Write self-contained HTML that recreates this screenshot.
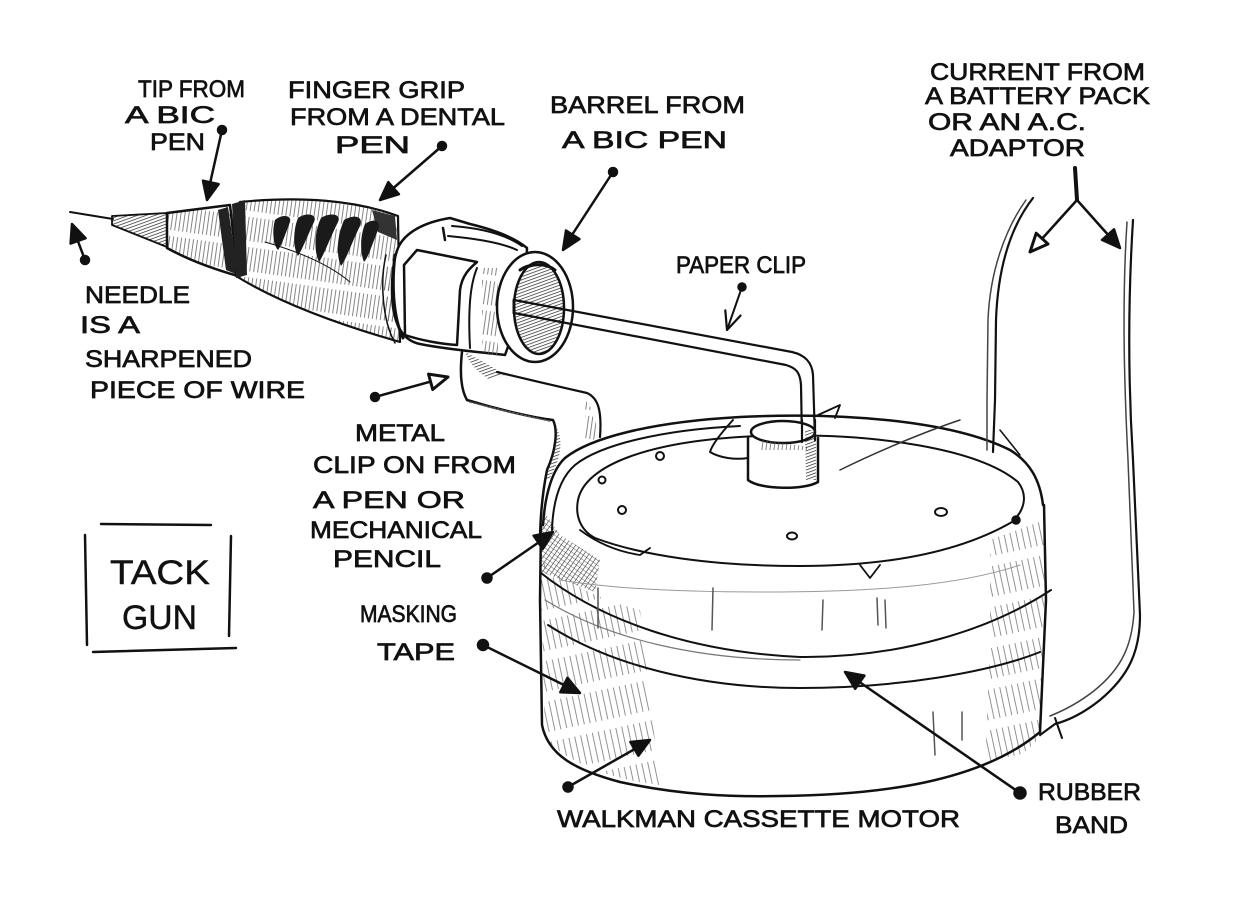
<!DOCTYPE html>
<html><head><meta charset="utf-8"><style>
html,body{margin:0;padding:0;background:#fff;}
svg{display:block;}
text{font-family:"Liberation Sans",sans-serif;fill:#111;stroke:#111;stroke-width:0.7;}
</style></head><body>
<svg width="1247" height="900" viewBox="0 0 1247 900" xmlns="http://www.w3.org/2000/svg">
<defs>
<pattern id="vh" width="4" height="30" patternUnits="userSpaceOnUse" patternTransform="rotate(8)"><line x1="1" y1="0" x2="1" y2="24" stroke="#666" stroke-width="0.8"/></pattern>
<pattern id="vh2" width="6" height="40" patternUnits="userSpaceOnUse" patternTransform="rotate(-12)"><line x1="1" y1="0" x2="1" y2="30" stroke="#777" stroke-width="0.8"/></pattern>
<pattern id="dk" width="3" height="3" patternUnits="userSpaceOnUse" patternTransform="rotate(70)"><line x1="0" y1="0" x2="0" y2="3" stroke="#222" stroke-width="1.4"/></pattern>
<pattern id="xh" width="4" height="4" patternUnits="userSpaceOnUse" patternTransform="rotate(35)"><line x1="0" y1="0" x2="0" y2="4" stroke="#222" stroke-width="1.1"/><line x1="0" y1="0" x2="4" y2="0" stroke="#444" stroke-width="0.8"/></pattern>
</defs>
<rect width="1247" height="900" fill="#fff"/>

<!-- ============ TEXT ============ -->
<g font-size="24">
<text x="138" y="97" textLength="107" lengthAdjust="spacingAndGlyphs">TIP FROM</text>
<text x="125" y="123" textLength="90" lengthAdjust="spacingAndGlyphs">A BIC</text>
<text x="150" y="150" textLength="55" lengthAdjust="spacingAndGlyphs">PEN</text>
<text x="288" y="98" textLength="177" lengthAdjust="spacingAndGlyphs">FINGER GRIP</text>
<text x="290" y="125" textLength="215" lengthAdjust="spacingAndGlyphs">FROM A DENTAL</text>
<text x="335" y="153" textLength="75" lengthAdjust="spacingAndGlyphs">PEN</text>
<text x="550" y="113" textLength="195" lengthAdjust="spacingAndGlyphs">BARREL FROM</text>
<text x="562" y="148" textLength="165" lengthAdjust="spacingAndGlyphs">A BIC PEN</text>
<text x="930" y="80" textLength="215" lengthAdjust="spacingAndGlyphs">CURRENT FROM</text>
<text x="925" y="104" textLength="225" lengthAdjust="spacingAndGlyphs">A BATTERY PACK</text>
<text x="928" y="130" textLength="158" lengthAdjust="spacingAndGlyphs">OR AN A.C.</text>
<text x="950" y="156" textLength="135" lengthAdjust="spacingAndGlyphs">ADAPTOR</text>
<text x="676" y="273" textLength="130" lengthAdjust="spacingAndGlyphs">PAPER CLIP</text>
<text x="85" y="303" textLength="105" lengthAdjust="spacingAndGlyphs">NEEDLE</text>
<text x="80" y="333" textLength="60" lengthAdjust="spacingAndGlyphs">IS A</text>
<text x="85" y="367" textLength="167" lengthAdjust="spacingAndGlyphs">SHARPENED</text>
<text x="90" y="398" textLength="215" lengthAdjust="spacingAndGlyphs">PIECE OF WIRE</text>
<text x="355" y="441" textLength="90" lengthAdjust="spacingAndGlyphs">METAL</text>
<text x="313" y="473" textLength="203" lengthAdjust="spacingAndGlyphs">CLIP ON FROM</text>
<text x="313" y="508" textLength="152" lengthAdjust="spacingAndGlyphs">A PEN OR</text>
<text x="310" y="538" textLength="172" lengthAdjust="spacingAndGlyphs">MECHANICAL</text>
<text x="333" y="567" textLength="108" lengthAdjust="spacingAndGlyphs">PENCIL</text>
<text x="360" y="622" textLength="97" lengthAdjust="spacingAndGlyphs">MASKING</text>
<text x="377" y="660" textLength="78" lengthAdjust="spacingAndGlyphs">TAPE</text>
<text x="557" y="827" textLength="403" lengthAdjust="spacingAndGlyphs">WALKMAN CASSETTE MOTOR</text>
<text x="1038" y="800" textLength="103" lengthAdjust="spacingAndGlyphs">RUBBER</text>
<text x="1055" y="833" textLength="73" lengthAdjust="spacingAndGlyphs">BAND</text>
</g>
<g font-size="34">
<text x="110" y="584" textLength="100" lengthAdjust="spacingAndGlyphs" style="stroke-width:0.4">TACK</text>
<text x="122" y="629" textLength="75" lengthAdjust="spacingAndGlyphs" style="stroke-width:0.4">GUN</text>
</g>
<!-- tack gun box -->
<g stroke="#111" stroke-width="2.5" fill="none" stroke-linecap="round">
<path d="M101,524 L211,525"/>
<path d="M85,535 L87,645"/>
<path d="M231,536 L229,636"/>
<path d="M93,652 L236,648"/>
</g>

<!-- ============ PEN ============ -->
<g stroke="#111" fill="none" stroke-linecap="round" stroke-linejoin="round">
<path d="M70,212 L113,219" stroke-width="2"/>
<path d="M112,216 L167,213 L167,247 L112,225 Z" fill="url(#dk)" stroke-width="1.8"/>
<path d="M167,213 L230,205 L238,276 C210,268 185,258 167,248 Z" fill="url(#vh)" stroke-width="2.5"/>
<path d="M218,210 L228,207 L238,275 L226,270 Z" fill="#222" stroke="none"/>
<path d="M240,202 C300,196 355,200 398,216 L400,342 C330,322 275,300 236,276 Z" fill="url(#vh)" stroke-width="2.2"/>
<path d="M232,204 L245,200 L247,275 L236,278 Z" fill="#222" stroke="none"/>
<path d="M372,210 L395,216 L397,240 L378,232 Z" fill="#333" stroke="none"/>
<g fill="#1a1a1a" stroke="none">
<path d="M275,220 C282,214 292,215 290,222 C286,232 282,245 278,250 C273,245 272,230 275,220 Z"/>
<path d="M298,218 C306,212 318,214 314,222 C308,235 302,250 298,256 C293,248 293,230 298,218 Z"/>
<path d="M321,218 C330,212 342,214 338,222 C330,238 324,255 319,262 C314,252 314,232 321,218 Z"/>
<path d="M344,220 C354,214 364,216 360,226 C352,242 346,260 341,266 C336,256 337,236 344,220 Z"/>
<path d="M365,224 C373,218 382,220 378,230 C372,245 368,258 364,262 C360,252 360,236 365,224 Z"/>
</g>
<path d="M265,242 C300,252 330,265 350,282" stroke-width="1"/>
</g>

<!-- collar / clip ring -->
<g stroke="#111" fill="none" stroke-linecap="round" stroke-linejoin="round">
<path d="M398,248 C405,232 425,222 450,218 L470,224 C495,230 515,238 527,248 L525,300 L505,355 C480,352 450,350 420,344 C400,340 392,320 392,290 C392,270 394,258 398,248 Z" fill="#fff" stroke-width="2.5"/>
<path d="M395,255 C392,280 392,315 403,338" stroke-width="3"/>
<path d="M386,255 C380,280 382,320 395,343" fill="url(#vh)" stroke-width="1.5"/>
<path d="M417,250 L477,262 C470,268 462,275 460,290 L457,345 C440,344 420,340 405,335 L404,265 Z" fill="#fff" stroke-width="2.5"/>
<path d="M477,268 C470,285 468,310 470,348" stroke-width="2"/>
<path d="M443,228 L445,240" stroke-width="2.5"/>
<path d="M448,236 C470,238 500,242 517,250" stroke-width="2"/>
<path d="M452,226 C480,228 505,234 522,246" stroke-width="2"/>
<path d="M482,268 L482,352 L498,356 L498,268 Z" fill="url(#vh)" stroke="none"/>
<ellipse cx="535" cy="307" rx="38" ry="55" fill="#fff" stroke-width="2.5"/>
<ellipse cx="539" cy="308" rx="25" ry="46" fill="url(#dk)" stroke-width="2.5"/>
<path d="M520,270 C528,264 545,262 555,270" stroke-width="3"/>
</g>

<!-- paper clip wire -->
<g stroke="#111" fill="none" stroke-linecap="round" stroke-linejoin="round" stroke-width="2.2">
<path d="M514,300 L792,352 C805,355 812,362 813,375 L815,440"/>
<path d="M514,313 L786,365 C796,368 800,372 801,385 L802,440"/>
<path d="M514,300 L514,313" stroke-width="3"/>
</g>

<!-- metal clip -->
<g stroke="#111" fill="none" stroke-linecap="round" stroke-linejoin="round">
<path d="M458,352 L498,360 L505,372 C520,380 550,385 587,393 C598,398 602,410 600,437 L560,470 L548,540 L540,545 L545,470 C550,450 556,435 553,425 C540,418 500,410 468,400 C460,390 458,370 458,352 Z" fill="#fff" stroke="none"/>
<path d="M462,352 C460,370 460,388 467,400 C500,410 535,418 553,420 C558,430 556,450 547,470 C542,495 540,520 540,545" stroke-width="2.5"/>
<path d="M470,402 C505,411 535,418 550,421" stroke="#555" stroke-width="1.5" stroke-dasharray="2 2"/>
<path d="M497,372 C530,380 565,388 587,393 C598,398 602,410 600,437" stroke-width="2.2"/>
<path d="M465,352 C480,360 495,368 505,375 L490,380 C478,372 470,365 465,352 Z" fill="url(#dk)" stroke="none"/>
<path d="M555,425 C565,440 560,460 550,478 L545,480 C552,460 555,440 555,425 Z" fill="url(#dk)" stroke="none"/>
<path d="M585,400 C595,410 598,425 596,440 L585,438 Z" fill="url(#vh)" stroke="none"/>
</g>

<!-- ============ MOTOR ============ -->
<g stroke="#111" fill="none" stroke-linecap="round" stroke-linejoin="round">
<path d="M540,560 L540,730 C560,770 640,795 760,795 C880,795 1000,780 1038,730 L1045,560 Z" fill="#fff" stroke="none"/>
<path d="M540,540 L545,740 C580,770 620,780 660,785 L640,610 C600,600 570,585 540,560 Z" fill="url(#vh2)" stroke="none"/>
<path d="M990,540 L1045,520 L1042,735 C1020,760 1000,768 985,770 L990,640 Z" fill="url(#vh2)" stroke="none"/>
<path d="M543,510 L560,535 L600,560 L595,592 L541,572 Z" fill="url(#xh)" stroke="none"/>
<path d="M543,525 C545,495 552,470 565,458 C590,438 650,422 740,417 C840,412 950,420 1010,450 C1030,462 1040,480 1043,505" stroke-width="2.5"/>
<path d="M552,530 C553,500 560,478 575,465 C600,445 660,430 740,426" stroke-width="2"/>
<path d="M578,500 C585,465 650,440 760,436 C880,432 980,450 1018,482 C1028,495 1025,510 1012,522 C960,552 890,566 800,566 C710,566 640,555 595,538 C580,530 575,515 578,500 Z" stroke-width="2"/>
<path d="M580,530 C600,545 620,552 640,555 L650,548" stroke-width="1.8"/>
<path d="M860,565 L870,578 L880,565" stroke-width="1.8"/>
<path d="M541,525 L540,600 L542,725 C548,755 575,770 620,782 C680,795 730,797 780,796 C880,795 980,782 1040,732 L1046,600 L1044,505" stroke-width="2.5"/>
<path d="M541,573 C600,620 690,652 800,657 C900,658 990,630 1051,590" stroke-width="2"/>
<path d="M545,600 C610,640 700,660 800,660" stroke="#777" stroke-width="1.2"/>
<path d="M548,625 C610,665 700,688 800,688 C900,688 990,672 1040,652" stroke-width="2"/>
<path d="M560,580 C620,590 700,592 760,592 C880,592 960,585 1020,565" stroke="#999" stroke-width="1"/>
<path d="M598,588 L598,628 M713,588 L712,630 M823,600 L822,630 M877,598 L878,625 M885,600 L886,628 M933,712 L935,755 M962,712 L962,740" stroke="#555" stroke-width="1.5"/>
<circle cx="660" cy="456" r="4" stroke-width="2"/>
<circle cx="602" cy="480" r="3.5" stroke-width="2"/>
<circle cx="622" cy="510" r="4" stroke-width="2"/>
<ellipse cx="792" cy="536" rx="5" ry="3.5" stroke-width="2"/>
<ellipse cx="941" cy="512" rx="6" ry="4" stroke-width="2"/>
<circle cx="1016" cy="520" r="4" fill="#111" stroke-width="1.5"/>
<path d="M733,420 C722,432 712,445 710,452 C720,458 735,460 748,458" stroke-width="2"/>
<path d="M748,438 L748,480 C760,490 805,490 818,482 L818,438" fill="#fff" stroke-width="2.5"/>
<ellipse cx="783" cy="432" rx="32" ry="11" fill="#fff" stroke-width="2.5"/>
<path d="M760,440 L800,444 L808,440 L808,450 L760,450 Z" fill="url(#vh)" stroke="none"/>
<path d="M802,420 L802,442 M815,420 L815,440" stroke-width="2.2"/>
<path d="M805,430 L816,430 L816,480 L806,480 Z" fill="url(#dk)" stroke="none"/>
<path d="M818,415 L840,405 L835,418" stroke-width="1.8"/>
<path d="M840,470 C880,450 930,430 960,420" stroke="#333" stroke-width="1.5"/>
<path d="M1000,430 L1020,455" stroke-width="1.5"/>
</g>

<!-- ============ WIRES ============ -->
<g stroke="#111" fill="none" stroke-linecap="round" stroke-width="2.2">
<path d="M1033,198 C1012,225 998,265 996,320 L995,400 L993,452"/>
<path d="M1026,200 C1006,228 990,270 988,320 L987,400 L987,450" stroke="#444" stroke-width="1.5"/>
<path d="M1133,220 C1128,300 1128,380 1133,460 L1140,615 C1140,650 1130,675 1100,700 C1085,712 1070,720 1055,724 L1040,735"/>
<path d="M1127,222 C1122,300 1124,380 1128,460 L1134,612 C1132,645 1122,668 1095,690 C1080,702 1065,710 1050,716" stroke="#444" stroke-width="1.5"/>
<path d="M1055,718 L1062,738" stroke-width="2"/>
</g>

<!-- ============ ARROWS ============ -->
<g stroke="#111" stroke-width="2.5" fill="#111" stroke-linecap="round" stroke-linejoin="round">
<line x1="222" y1="130" x2="209" y2="188"/>
<circle cx="222" cy="130" r="4"/>
<polygon points="207,200 218.6,184.1 203,180.7"/>
<line x1="442" y1="146" x2="390" y2="191"/>
<circle cx="442" cy="146" r="4"/>
<polygon points="380,200 398.9,194.2 388.3,182.2"/>
<line x1="613" y1="172" x2="570" y2="238"/>
<circle cx="613" cy="172" r="4"/>
<polygon points="563,250 579.4,239.1 566,230.5"/>
<line x1="85" y1="260" x2="76" y2="236"/>
<circle cx="85" cy="260" r="4"/>
<polygon points="72,224 85.6,238.2 70.6,243.6"/>
<line x1="742" y1="287" x2="727" y2="330" stroke-width="2"/>
<circle cx="742" cy="287" r="3.5"/>
<polyline points="740.5,315.6 727,330 725.3,310.4" fill="none" stroke-width="2.2"/>
<line x1="375" y1="397" x2="440" y2="379"/>
<circle cx="375" cy="397" r="4"/>
<polygon points="448,377 432.7,389.5 428.5,374.1" fill="#fff" stroke-width="3"/>
<line x1="487" y1="578" x2="545" y2="538"/>
<circle cx="487" cy="578" r="4.5"/>
<polygon points="553,532 542.8,548.9 533.6,535.7"/>
<line x1="483" y1="645" x2="568" y2="687"/>
<circle cx="483" cy="645" r="5"/>
<polygon points="580,693 560.3,692.2 567.5,677.8"/>
<line x1="568" y1="787" x2="640" y2="746"/>
<circle cx="568" cy="787" r="4.5"/>
<polygon points="650,740 638.4,755.8 630.4,742"/>
<line x1="1020" y1="793" x2="858" y2="681"/>
<circle cx="1020" cy="793" r="5.5"/>
<polygon points="845,672 864.4,675.6 855.2,688.8"/>
<path d="M1075,168 L1077,200" stroke-width="4" fill="none"/>
<line x1="1077" y1="200" x2="1040" y2="241"/>
<polygon points="1030,252 1048,244 1036.2,233.2" fill="#fff" stroke-width="3"/>
<line x1="1077" y1="200" x2="1110" y2="237"/>
<polygon points="1120,248 1102,239.9 1114,229.3"/>
</g>
</svg>
</body></html>
